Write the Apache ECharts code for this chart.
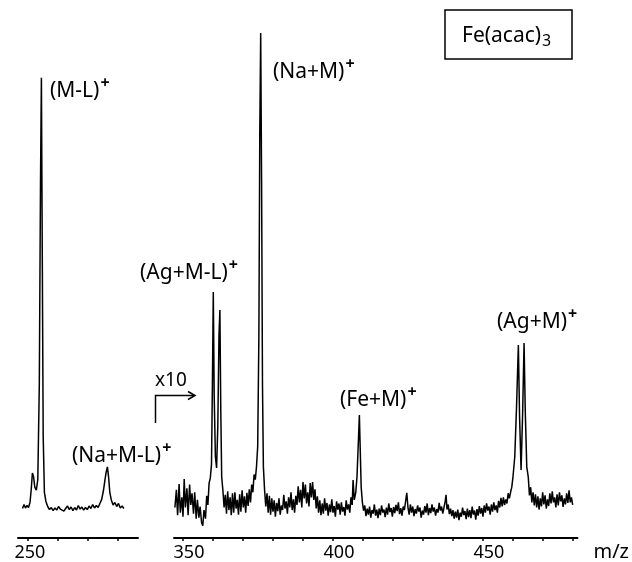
<!DOCTYPE html>
<html>
<head>
<meta charset="utf-8">
<script src="https://cdn.jsdelivr.net/npm/echarts@6/dist/echarts.min.js"></script>
<style>
html,body{margin:0;padding:0;background:#fff;}
#c{width:632px;height:562px;}
</style>
</head>
<body>
<div id="c"></div>
<script>
// ---- data (m/z, relative intensity) ----
const leftTicks = [250, 260, 270, 280];
const leftLabels = [250];
const rightTicks = [350, 360, 370, 380, 390, 400, 410, 420, 430, 440, 450, 460, 470, 480];
const rightLabels = [350, 400, 450];

// low-mass segment (normal gain)
const leftTrace = [
 [248.2,5.8],[248.7,6.6],[249.2,5.9],[249.7,6.4],[250.2,6.0],[250.7,7.0],[251.1,9.5],[251.5,12.8],
 [251.9,12.0],[252.3,10.0],[252.8,9.4],[253.3,11.5],[253.8,30],[254.2,70],[254.5,90.6],[254.8,55],
 [255.1,20],[255.5,9.0],[256.0,7.2],[256.6,6.2],[257.2,5.6],[257.8,6.0],[258.4,5.4],[259.0,5.9],
 [259.6,5.5],[260.2,6.2],[260.8,5.7],[261.4,6.0],[262.0,5.3],[262.6,5.8],[263.2,6.3],[263.8,5.6],
 [264.4,6.1],[265.0,5.4],[265.6,6.0],[266.2,5.5],[266.8,6.4],[267.4,5.7],[268.0,6.1],[268.6,5.5],
 [269.2,6.0],[269.8,5.6],[270.4,6.3],[271.0,5.8],[271.6,6.6],[272.2,5.9],[272.8,6.4],[273.4,6.0],
 [274.0,6.8],[274.6,7.6],[275.2,9.4],[275.7,11.5],[276.1,13.0],[276.5,14.0],[276.9,12.0],[277.3,9.0],
 [277.8,7.5],[278.4,6.5],[279.0,7.0],[279.6,6.2],[280.2,6.8],[280.8,5.9],[281.4,6.3],[282.0,5.8]
];

// high-mass segment (x10 gain)
const rightTrace = [
 [347.3,6.0],[347.8,9.5],[348.2,4.5],[348.7,10.6],[349.1,5.0],[349.6,8.0],[350.0,4.2],[350.4,11.6],
 [350.8,6.0],[351.3,9.8],[351.7,4.5],[352.2,10.5],[352.6,6.5],[353.0,8.8],[353.5,4.8],[353.9,9.0],
 [354.4,3.8],[354.8,7.5],[355.3,4.0],[355.7,6.2],[356.2,3.0],[356.6,2.4],[357.0,5.5],[357.5,3.8],
 [357.9,8.3],[358.3,6.5],[358.7,10.8],[359.1,11.8],[359.5,14.5],[359.8,30],[360.1,48.4],[360.4,28],
 [360.8,16],[361.2,13.8],[361.6,22],[362.0,40],[362.3,44.9],[362.6,25],[362.9,12],[363.3,9.4],
 [363.7,6.0],[364.1,8.5],[364.5,4.8],[364.9,9.2],[365.3,5.5],[365.7,8.0],[366.1,4.5],[366.5,8.8],
 [366.9,5.0],[367.3,9.0],[367.7,5.8],[368.1,7.5],[368.5,4.6],[368.9,8.6],[369.3,5.2],[369.7,9.4],
 [370.1,6.0],[370.5,8.2],[370.9,5.0],[371.3,8.9],[371.7,6.3],[372.1,9.6],[372.5,7.0],[372.9,10.5],
 [373.3,9.0],[373.7,12.5],[374.1,11.5],[374.5,14.0],[374.9,18],[375.3,40],[375.6,80],[375.9,99.4],
 [376.2,70],[376.5,30],[376.8,14],[377.2,9.4],[377.6,6.2],[378.0,8.8],[378.4,5.0],[378.8,8.3],
 [379.2,4.6],[379.6,7.8],[380.0,5.2],[380.4,7.4],[380.8,4.2],[381.2,6.9],[381.6,5.3],[382.0,7.8],
 [382.4,4.6],[382.8,6.4],[383.2,5.5],[383.6,8.5],[384.0,5.8],[384.4,7.2],[384.8,4.8],[385.2,8.0],
 [385.6,6.0],[386.0,9.0],[386.4,5.5],[386.8,7.6],[387.2,5.0],[387.6,8.3],[388.0,6.5],[388.4,10.2],
 [388.8,7.0],[389.2,9.5],[389.6,6.0],[390.0,11.0],[390.4,7.8],[390.8,10.5],[391.2,6.8],[391.6,9.0],
 [392.0,6.2],[392.4,10.8],[392.8,8.0],[393.2,11.0],[393.6,7.5],[394.0,9.6],[394.4,5.8],[394.8,8.2],
 [395.2,5.0],[395.6,7.4],[396.0,4.5],[396.4,6.8],[396.8,4.8],[397.2,7.8],[397.6,5.4],[398.0,6.9],
 [398.4,4.4],[398.8,6.6],[399.2,5.1],[399.6,7.6],[400.0,5.0],[400.4,6.3],[400.8,4.2],[401.2,7.2],
 [401.6,5.6],[402.0,6.8],[402.4,4.6],[402.8,7.0],[403.2,5.2],[403.6,6.1],[404.0,4.4],[404.4,7.4],
 [404.8,5.6],[405.2,6.6],[405.6,5.0],[406.0,8.0],[406.4,6.5],[406.7,11.4],[407.1,7.5],[407.6,9.0],
 [408.0,12],[408.4,18],[408.8,24.2],[409.1,17],[409.4,10],[409.8,7.0],[410.2,5.4],[410.6,6.4],
 [411.0,4.3],[411.4,5.8],[411.8,4.6],[412.2,6.2],[412.6,4.0],[413.0,5.5],[413.4,4.8],[413.8,6.6],
 [414.2,4.4],[414.6,5.6],[415.0,3.9],[415.4,5.8],[415.8,4.5],[416.2,6.4],[416.6,5.0],[417.0,5.6],
 [417.4,4.1],[417.8,6.0],[418.2,4.6],[418.6,6.8],[419.0,5.1],[419.4,5.9],[419.8,4.2],[420.2,6.1],
 [420.6,4.9],[421.0,6.5],[421.4,5.3],[421.8,7.0],[422.2,4.7],[422.6,5.9],[423.0,4.4],[423.4,6.2],
 [423.8,5.5],[424.2,7.2],[424.6,8.9],[425.0,6.0],[425.4,4.6],[425.8,6.6],[426.2,5.0],[426.6,6.2],
 [427.0,4.3],[427.4,5.7],[427.8,4.8],[428.2,6.4],[428.6,5.2],[429.0,6.0],[429.4,4.0],[429.8,5.4],
 [430.2,4.6],[430.6,6.3],[431.0,5.0],[431.4,6.8],[431.8,4.5],[432.2,5.9],[432.6,4.9],[433.0,6.6],
 [433.4,5.2],[433.8,6.0],[434.2,4.4],[434.6,5.7],[435.0,5.0],[435.4,6.9],[435.8,5.4],[436.2,6.2],
 [436.6,4.8],[437.0,6.0],[437.4,7.2],[437.7,8.5],[438.0,5.6],[438.4,6.6],[438.8,4.7],[439.2,5.8],
 [439.6,4.3],[440.0,5.5],[440.4,3.8],[440.8,5.2],[441.2,4.0],[441.6,5.6],[442.0,3.5],[442.4,5.0],
 [442.8,4.2],[443.2,6.0],[443.6,4.5],[444.0,5.3],[444.4,3.7],[444.8,5.8],[445.2,4.1],[445.6,5.5],
 [446.0,3.9],[446.4,6.2],[446.8,4.6],[447.2,5.4],[447.6,3.6],[448.0,5.7],[448.4,4.4],[448.8,6.3],
 [449.2,4.8],[449.6,5.9],[450.0,4.2],[450.4,6.4],[450.8,5.0],[451.2,6.8],[451.6,5.4],[452.0,6.2],
 [452.4,4.6],[452.8,6.6],[453.2,5.2],[453.6,7.0],[454.0,5.5],[454.4,6.4],[454.8,5.0],[455.2,7.3],
 [455.6,6.0],[456.0,7.9],[456.4,6.2],[456.8,8.0],[457.2,6.5],[457.6,7.6],[458.0,6.8],[458.4,8.8],
 [458.8,7.8],[459.2,9.0],[459.6,10.0],[460.0,12],[460.6,16],[461.2,26],[461.8,38.0],[462.2,24],
 [462.7,13.4],[463.2,24],[463.7,38.4],[464.1,25],[464.6,14],[465.1,12.0],[465.5,8.4],[465.9,10.0],
 [466.3,7.0],[466.7,9.0],[467.1,6.4],[467.5,8.6],[467.9,6.0],[468.3,8.2],[468.7,5.6],[469.1,7.8],
 [469.5,6.2],[469.9,9.0],[470.3,6.6],[470.7,8.4],[471.1,5.8],[471.5,7.6],[471.9,6.3],[472.3,8.8],
 [472.7,6.8],[473.1,9.2],[473.5,7.0],[473.9,8.0],[474.3,6.0],[474.7,8.6],[475.1,6.4],[475.5,9.0],
 [475.9,7.2],[476.3,8.4],[476.7,6.1],[477.1,7.8],[477.5,6.6],[477.9,8.8],[478.3,6.9],[478.7,9.4],
 [479.1,7.0],[479.5,8.0],[479.9,6.5]
];

const peakLabels = ['(M-L)', '(Na+M-L)', '(Ag+M-L)', '(Na+M)', '(Fe+M)', '(Ag+M)'];
const compoundName = 'Fe(acac)';
const compoundSub = '3';
const gainText = 'x10';
const axisName = 'm/z';

// ---- chart ----
const FONT = 'Noto Sans';
const chart = echarts.init(document.getElementById('c'), null, {renderer: 'canvas'});

function axisCommon(ticks, labels, labelPad) {
  return {
    type: 'value',
    axisLine: {show: true, onZero: false, lineStyle: {color: '#000', width: 2}},
    axisTick: {show: true, customValues: ticks, length: 3, inside: false, lineStyle: {color: '#000', width: 1.5}},
    axisLabel: {show: true, customValues: labels, color: '#000', fontFamily: FONT, fontSize: 18, margin: 6,
                padding: labelPad},
    splitLine: {show: false}
  };
}

const xLeft = Object.assign(axisCommon(leftTicks, leftLabels, [0, 0, 0, 4]), {gridIndex: 0, min: 246.7, max: 286.7});
const xRight = Object.assign(axisCommon(rightTicks, rightLabels, [0, 0, 0, 12]), {
  gridIndex: 1, min: 347, max: 481.5,
  name: axisName, nameLocation: 'end', nameGap: 16,
  nameTextStyle: {color: '#000', fontFamily: FONT, fontSize: 20, verticalAlign: 'top', padding: [4, 0, 0, 0]}
});

function peakLabel(x, y, txt) {
  return {
    type: 'text', silent: true,
    style: {
      x: x, y: y, text: txt + '{s|+}',
      fill: '#000', fontFamily: FONT, fontSize: 21,
      textAlign: 'left', textVerticalAlign: 'middle', align: 'left', verticalAlign: 'middle',
      rich: {s: {fontSize: 16, fontFamily: FONT, fontWeight: 'bold', fill: '#000', padding: [0, 0, 16, 1]}}
    }
  };
}

const option = {
  animation: false,
  backgroundColor: '#fff',
  grid: [
    {left: 18, top: 30, width: 120, height: 508},
    {left: 174, top: 30, width: 403.5, height: 508}
  ],
  xAxis: [xLeft, xRight],
  yAxis: [
    {gridIndex: 0, type: 'value', min: 0, max: 100, show: false},
    {gridIndex: 1, type: 'value', min: 0, max: 100, show: false}
  ],
  series: [
    {type: 'line', xAxisIndex: 0, yAxisIndex: 0, data: leftTrace, showSymbol: false, symbol: 'none',
     lineStyle: {color: '#000', width: 1.5}, silent: true},
    {type: 'line', xAxisIndex: 1, yAxisIndex: 1, data: rightTrace, showSymbol: false, symbol: 'none',
     lineStyle: {color: '#000', width: 1.5}, silent: true}
  ],
  graphic: [
    peakLabel(50, 91, peakLabels[0]),
    peakLabel(72, 456, peakLabels[1]),
    peakLabel(140, 273, peakLabels[2]),
    peakLabel(273, 72, peakLabels[3]),
    peakLabel(340, 400, peakLabels[4]),
    peakLabel(497, 322, peakLabels[5]),
    // compound box
    {type: 'rect', silent: true, shape: {x: 445, y: 10, width: 127, height: 49},
     style: {fill: 'none', stroke: '#000', lineWidth: 1.5}},
    {type: 'text', silent: true,
     style: {x: 462, y: 36, text: compoundName + '{sub|' + compoundSub + '}', fill: '#000', fontFamily: FONT, fontSize: 21,
             textAlign: 'left', textVerticalAlign: 'middle', align: 'left', verticalAlign: 'middle',
             rich: {sub: {fontSize: 16, fontFamily: FONT, fill: '#000', verticalAlign: 'bottom', padding: [10, 0, 0, 1]}}}},
    // gain change marker
    {type: 'text', silent: true,
     style: {x: 155, y: 381, text: gainText, fill: '#000', fontFamily: FONT, fontSize: 19,
             textAlign: 'left', textVerticalAlign: 'middle', align: 'left', verticalAlign: 'middle'}},
    {type: 'polyline', silent: true, shape: {points: [[155.5, 423], [155.5, 395.5], [194, 395.5]]},
     style: {fill: 'none', stroke: '#000', lineWidth: 1.5}},
    {type: 'polyline', silent: true, shape: {points: [[188, 391.5], [195, 395.5], [188, 399.5]]},
     style: {fill: 'none', stroke: '#000', lineWidth: 1.5}}
  ]
};
chart.setOption(option);
</script>
</body>
</html>
